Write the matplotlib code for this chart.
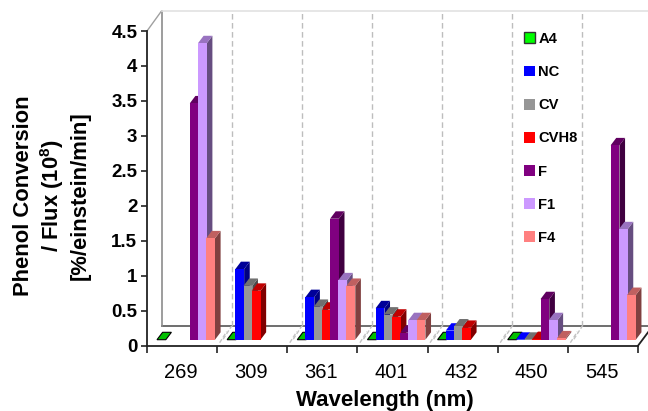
import matplotlib
matplotlib.use("Agg")
import matplotlib.pyplot as plt
from matplotlib.patches import Polygon, Patch

plt.rcParams['font.family'] = ['Liberation Sans', 'DejaVu Sans']
plt.rcParams['mathtext.fontset'] = 'custom'
plt.rcParams['mathtext.rm'] = 'Liberation Sans'
plt.rcParams['mathtext.bf'] = 'Liberation Sans:bold'

wavelengths = ['269', '309', '361', '401', '432', '450', '545']
a4    = [0, 0, 0, 0, 0, 0, None]
nc    = [None, 1.01, 0.61, 0.45, 0.13, 0.0, None]
cv    = [None, 0.77, 0.47, 0.36, 0.19, 0.0, None]
cvh8  = [None, 0.70, 0.43, 0.33, 0.17, 0.01, None]
f     = [3.38, None, 1.73, 0.10, None, 0.58, 2.78]
f1    = [4.24, None, 0.85, 0.28, None, 0.28, 1.58]
f4    = [1.45, None, 0.77, 0.28, None, 0.02, 0.64]
series_names = ['A4', 'NC', 'CV', 'CVH8', 'F', 'F1', 'F4']
series_values = [a4, nc, cv, cvh8, f, f1, f4]
front_colors = ['#00C000', '#0000FF', '#969696', '#FF0000', '#800080', '#CC99FF', '#FF8080']
top_colors   = ['#00C000', '#000099', '#707070', '#C00000', '#600060', '#9973C0', '#C06060']
side_colors  = ['#006000', '#000080', '#4B4B4B', '#800000', '#400040', '#664D80', '#804040']
legend_colors = ['#00FF00', '#0000FF', '#969696', '#FF0000', '#800080', '#CC99FF', '#FF8080']

W, H = 648, 411
L, R, B, T = 147.0, 638.0, 345.7, 31.0
fig = plt.figure(figsize=(W / 100, H / 100), dpi=100)
ax = fig.add_axes([L / W, 1 - B / H, (R - L) / W, (B - T) / H])
ax.set_xlim(0, 7)
ax.set_ylim(0, 4.5)
ux = (R - L) / 7      # px per category
uy = (B - T) / 4.5    # px per value unit
px = lambda v: v / ux
py = lambda v: v / uy

# frame: floor, walls
back_dx, back_dy = px(14.5), py(19.7)
top = 4.5 + py(20)
ax.add_patch(Polygon([(0, 0), (7, 0), (7 + back_dx, back_dy), (back_dx, back_dy)],
                     closed=True, fc='white', ec='none', clip_on=False, zorder=1))
ax.plot([back_dx, 7 + px(12)], [back_dy, back_dy], color='#6e6e6e', lw=1.4, clip_on=False, zorder=2)
ax.plot([back_dx, back_dx], [back_dy, top], color='#8c8c8c', lw=1.2, clip_on=False, zorder=2)
ax.plot([0, back_dx], [4.5, top], color='#a0a0a0', lw=1.0, clip_on=False, zorder=2)
ax.plot([back_dx, 7 + px(10)], [top, top], color='#e2e2e2', lw=1.2, clip_on=False, zorder=2)
ax.plot([7, 7 + px(10.5)], [0, py(14)], color='#222222', lw=1.3, clip_on=False, zorder=2)

# gridlines on the back wall and double dashes on the floor
for i in range(1, 7):
    ax.plot([i + back_dx, i + back_dx], [back_dy, top], color='#bdbdbd', lw=1.0,
            ls=(0, (4, 2.5)), clip_on=False, zorder=2)
    ax.plot([i + px(2.5), i + px(9.5)], [py(3), py(14)], color='#c4c4c4', lw=1.0,
            ls=(0, (3, 1.5)), clip_on=False, zorder=3)
    ax.plot([i + px(6), i + back_dx], [py(6.5), back_dy], color='#c4c4c4', lw=1.0,
            ls=(0, (3, 1.5)), clip_on=False, zorder=3)

# bars
base = py(6)
dx, dy = px(5.6), py(7.4)
width = px(8.8)
step = px(8.2)
offset = px(10)
z = 5
for cat in range(len(wavelengths)):
    for s, vals in enumerate(series_values):
        v = vals[cat]
        if v is None:
            continue
        x0 = cat + offset + s * step
        x1 = x0 + width
        yt = base + v
        is_zero = v == 0 and s == 0
        ec = 'black' if is_zero else 'none'
        tc = front_colors[s] if v <= 0.13 and s == 1 else top_colors[s]
        ax.add_patch(Polygon([(x1, base), (x1 + dx, base + dy), (x1 + dx, yt + dy), (x1, yt)],
                             closed=True, fc=side_colors[s], ec='none', clip_on=False, zorder=z))
        ax.add_patch(Polygon([(x0, yt), (x1, yt), (x1 + dx, yt + dy), (x0 + dx, yt + dy)],
                             closed=True, fc=tc, ec=ec, lw=0.8, clip_on=False, zorder=z))
        ax.bar(x0, v, width=width, bottom=base, align='edge', color=front_colors[s],
               clip_on=False, zorder=z + 0.5)
        z += 1

# axes
for sp in ['top', 'right']:
    ax.spines[sp].set_visible(False)
for sp in ['left', 'bottom']:
    ax.spines[sp].set_color('#222222')
    ax.spines[sp].set_linewidth(1.3)
ax.patch.set_alpha(0)
yt_vals = [0, 0.5, 1, 1.5, 2, 2.5, 3, 3.5, 4, 4.5]
ax.set_yticks(yt_vals)
ax.set_yticklabels(['0', '0.5', '1', '1.5', '2', '2.5', '3', '3.5', '4', '4.5'],
                   fontsize=13.5, fontweight='bold')
ax.tick_params(axis='y', length=4.5, width=1.2, color='#222222', pad=2.5)
ax.set_xticks(range(8))
ax.set_xticklabels([])
ax.tick_params(axis='x', which='major', length=5, width=1.2, color='#222222')
ax.set_xticks([i + 0.48 for i in range(7)], minor=True)
ax.set_xticklabels(wavelengths, minor=True, fontsize=14.5)
ax.tick_params(axis='x', which='minor', length=0, pad=12.5)

fig.text(385 / W, 1 - 410.5 / H, 'Wavelength (nm)', ha='center', va='bottom',
         fontsize=16.0, fontweight='bold')
fig.text(52 / W, 1 - 196 / H, 'Phenol Conversion\n/ Flux (10$^{\\mathbf{8}}$)\n[%/einstein/min]',
         ha='center', va='center', rotation=90, fontsize=15.8, fontweight='bold',
         linespacing=1.2, multialignment='center')

handles = [Patch(fc=c, ec='#333333' if n == 'A4' else 'none', lw=1.0)
           for n, c in zip(series_names, legend_colors)]
leg = fig.legend(handles, series_names, loc='upper left',
                 bbox_to_anchor=(524 / W, 1 - 32 / H), frameon=False, borderpad=0, borderaxespad=0,
                 handlelength=0.76, handleheight=0.76, handletextpad=0.2,
                 labelspacing=1.30, prop={'size': 10.6, 'weight': 'bold'})

fig.savefig('out.png', dpi=100)
